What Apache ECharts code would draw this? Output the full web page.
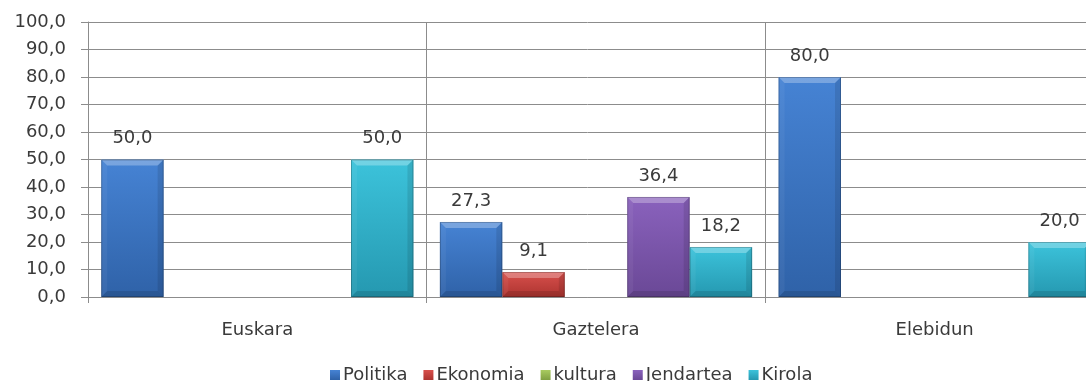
<!DOCTYPE html>
<html>
<head>
<meta charset="utf-8">
<script src="https://cdn.jsdelivr.net/npm/echarts@6/dist/echarts.min.js"></script>
<style>
  html, body { margin: 0; padding: 0; background: #ffffff; }
  #chart { width: 1086px; height: 381px; }
</style>
</head>
<body>
<div id="chart"></div>
<script>
// Categories and series values (percent)
const categories = ['Euskara', 'Gaztelera', 'Elebidun'];
const seriesNames = ['Politika', 'Ekonomia', 'kultura', 'Jendartea', 'Kirola'];
const politika  = [50.0, 27.3, 80.0];
const ekonomia  = [0.0, 9.1, 0.0];
const kultura   = [0.0, 0.0, 0.0];
const jendartea = [0.0, 36.4, 0.0];
const kirola    = [50.0, 18.2, 20.0];
const yTickLabels = ['0,0', '10,0', '20,0', '30,0', '40,0', '50,0', '60,0', '70,0', '80,0', '90,0', '100,0'];

const seriesValues = [politika, ekonomia, kultura, jendartea, kirola];

// face gradients: [top, bottom]
const palette = [
  ['#4683d4', '#2f62a8'],
  ['#d8504c', '#ad3430'],
  ['#a9cb60', '#80a042'],
  ['#8a62bd', '#6a4896'],
  ['#3cc3db', '#2598b0']
];

const CAT_GAP = 0.078;
const FONT = '"DejaVu Sans", Verdana, sans-serif';
const TEXT = '#3a3a3a';
const GRID = '#8c8c8c';

function grad(c) {
  return new echarts.graphic.LinearGradient(0, 0, 0, 1, [
    { offset: 0, color: c[0] },
    { offset: 1, color: c[1] }
  ]);
}

function fmt(v) { return v.toFixed(1).replace('.', ','); }

const barSeries = seriesNames.map((name, i) => ({
  name: name,
  type: 'bar',
  barGap: '0%',
  barCategoryGap: (CAT_GAP * 100) + '%',
  data: seriesValues[i],
  itemStyle: { color: grad(palette[i]) },
  label: {
    show: true,
    position: 'top',
    distance: 12,
    color: TEXT,
    fontFamily: FONT,
    fontSize: 18,
    formatter: p => (p.value ? fmt(p.value) : '')
  }
}));

// bevel edges drawn on top of each bar
const bevelData = [];
seriesValues.forEach((vals, s) => vals.forEach((v, c) => bevelData.push([c, v, s])));

function renderBevel(params, api) {
  const cat = api.value(0), val = api.value(1), s = api.value(2);
  if (!val) return null;
  const top = api.coord([cat, val]);
  const base = api.coord([cat, 0]);
  const band = api.size([1, 0])[0];
  const groupW = band * (1 - CAT_GAP);
  const w = groupW / seriesNames.length;
  const x = top[0] - groupW / 2 + s * w;
  const y = top[1];
  const h = base[1] - top[1];
  const b = Math.min(6, h / 2, w / 2);
  const poly = (pts, fill) => ({ type: 'polygon', shape: { points: pts }, style: { fill: fill }, silent: true });
  return {
    type: 'group',
    children: [
      poly([[x, y], [x + w, y], [x + w - b, y + b], [x + b, y + b]], 'rgba(255,255,255,0.28)'),
      poly([[x, y], [x + b, y + b], [x + b, y + h - b], [x, y + h]], 'rgba(255,255,255,0.05)'),
      poly([[x + w, y], [x + w, y + h], [x + w - b, y + h - b], [x + w - b, y + b]], 'rgba(0,0,0,0.10)'),
      poly([[x, y + h], [x + b, y + h - b], [x + w - b, y + h - b], [x + w, y + h]], 'rgba(0,0,0,0.12)'),
      { type: 'rect', shape: { x: x + 0.5, y: y + 0.5, width: w - 1, height: h - 1 },
        style: { fill: null, stroke: 'rgba(0,0,0,0.22)', lineWidth: 1 }, silent: true }
    ]
  };
}

const chart = echarts.init(document.getElementById('chart'), null, { renderer: 'canvas' });
chart.setOption({
  animation: false,
  backgroundColor: '#ffffff',
  grid: { left: 88, width: 1016, top: 22, bottom: 84, containLabel: false, outerBoundsMode: 'none' },
  legend: {
    data: seriesNames,
    left: 325,
    top: 361,
    itemWidth: 10,
    itemHeight: 10,
    itemGap: 16,
    icon: 'rect',
    textStyle: { color: TEXT, fontFamily: FONT, fontSize: 18, padding: [0, 0, 0, -2] }
  },
  xAxis: {
    type: 'category',
    data: categories,
    axisLine: { lineStyle: { color: GRID, width: 1 } },
    axisTick: { show: true, length: 6, lineStyle: { color: GRID } },
    splitLine: { show: true, lineStyle: { color: GRID, width: 1 } },
    axisLabel: { color: TEXT, fontFamily: FONT, fontSize: 18, margin: 24 }
  },
  yAxis: {
    type: 'value',
    min: 0,
    max: 100,
    interval: 10,
    axisLine: { show: true, lineStyle: { color: GRID, width: 1 } },
    axisTick: { show: true, length: 7, lineStyle: { color: GRID } },
    splitLine: { show: true, lineStyle: { color: GRID, width: 1 } },
    axisLabel: {
      color: TEXT, fontFamily: FONT, fontSize: 18, margin: 22,
      formatter: (v, i) => yTickLabels[i]
    }
  },
  series: barSeries.concat([{
    type: 'custom',
    name: 'bevel',
    renderItem: renderBevel,
    encode: { x: 0, y: 1 },
    data: bevelData,
    z: 5,
    silent: true
  }])
});
</script>
</body>
</html>
